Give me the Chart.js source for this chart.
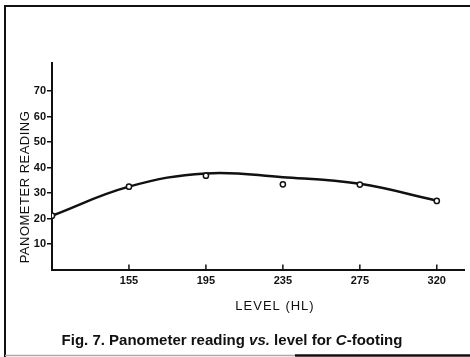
<!DOCTYPE html>
<html>
<head>
<meta charset="utf-8">
<script src="https://cdn.jsdelivr.net/npm/chart.js@4/dist/chart.umd.min.js"></script>
<style>
  html, body { margin: 0; padding: 0; background: #fff; }
  #chart { display: block; }
</style>
</head>
<body>
<canvas id="chart" width="470" height="357"></canvas>
<script>
// category labels along the level axis (first position is unlabeled)
const levelLabels = ['', '155', '195', '235', '275', '320'];
// measured panometer readings (open circles)
const readings = [21.1, 32.5, 36.8, 33.4, 33.3, 26.9];
// fitted curve
const curvePos = [0, 1, 2, 3, 4, 5];
const curveVals = [21.1, 32.5, 37.7, 36.2, 33.6, 27.0];
const yTickValues = [10, 20, 30, 40, 50, 60, 70];

const FONT = '"Liberation Sans", Arial, sans-serif';
const TICK_FONT = '"Liberation Sans Narrow", "Liberation Sans", Arial, sans-serif';

const figureText = {
  id: 'figureText',
  afterDraw(chart) {
    const { ctx, chartArea, scales } = chart;
    ctx.save();

    // outer frame
    ctx.strokeStyle = '#111';
    ctx.lineWidth = 2;
    ctx.beginPath();
    ctx.moveTo(5, 357);
    ctx.lineTo(5, 6);
    ctx.lineTo(470, 6);
    ctx.stroke();
    ctx.strokeStyle = '#aaa';
    ctx.lineWidth = 1.5;
    ctx.beginPath();
    ctx.moveTo(5, 355.5);
    ctx.lineTo(295, 355.5);
    ctx.stroke();
    ctx.strokeStyle = '#111';
    ctx.lineWidth = 2.5;
    ctx.beginPath();
    ctx.moveTo(295, 355.5);
    ctx.lineTo(470, 355.5);
    ctx.stroke();

    // x tick marks point up into the plot
    ctx.strokeStyle = '#111';
    ctx.lineWidth = 1.5;
    scales.x.ticks.forEach((t) => {
      const px = scales.x.getPixelForValue(t.value);
      ctx.beginPath();
      ctx.moveTo(px, chartArea.bottom);
      ctx.lineTo(px, chartArea.bottom - 5);
      ctx.stroke();
    });

    ctx.fillStyle = '#111';
    ctx.textAlign = 'center';
    ctx.textBaseline = 'middle';

    // axis titles
    ctx.font = `13px ${FONT}`;
    ctx.letterSpacing = '1px';
    ctx.fillText('LEVEL (HL)', 275, 306);

    ctx.save();
    ctx.translate(25, 187);
    ctx.rotate(-Math.PI / 2);
    ctx.letterSpacing = '0.5px';
    ctx.fillText('PANOMETER READING', 0, 0);
    ctx.restore();

    // caption with italic parts
    ctx.letterSpacing = '0px';
    const parts = [
      ['Fig. 7. Panometer reading ', false],
      ['vs.', true],
      [' level for ', false],
      ['C', true],
      ['-footing', false],
    ];
    const fontFor = (it) => `${it ? 'italic ' : ''}bold 15px ${FONT}`;
    let total = 0;
    parts.forEach(([s, it]) => { ctx.font = fontFor(it); total += ctx.measureText(s).width; });
    let x = 232 - total / 2;
    ctx.textAlign = 'left';
    parts.forEach(([s, it]) => {
      ctx.font = fontFor(it);
      ctx.fillText(s, x, 341);
      x += ctx.measureText(s).width;
    });

    ctx.restore();
  },
};

new Chart(document.getElementById('chart'), {
  type: 'scatter',
  data: {
    datasets: [
      {
        label: 'Fitted curve',
        data: curvePos.map((p, i) => ({ x: p, y: curveVals[i] })),
        showLine: true,
        borderColor: '#111',
        borderWidth: 2.5,
        pointRadius: 0,
        tension: 0.4,
        fill: false,
        order: 2,
      },
      {
        label: 'Panometer reading',
        data: readings.map((v, i) => ({ x: i, y: v })),
        showLine: false,
        pointRadius: 2.6,
        pointBorderWidth: 1.5,
        pointBorderColor: '#111',
        pointBackgroundColor: '#fff',
        order: 1,
      },
    ],
  },
  options: {
    responsive: false,
    animation: false,
    layout: { padding: { top: 63, right: 5, left: 0, bottom: 0 } },
    plugins: {
      legend: { display: false },
      tooltip: { enabled: false },
    },
    scales: {
      x: {
        type: 'linear',
        min: 0,
        max: 5.36,
        afterBuildTicks(scale) {
          scale.ticks = levelLabels.map((l, i) => ({ value: i })).filter((t) => t.value > 0);
        },
        afterFit(scale) { scale.height = 87.5; },
        grid: { display: false, drawTicks: false },
        border: { display: true, color: '#111', width: 2 },
        ticks: {
          padding: 5,
          color: '#111',
          font: { family: TICK_FONT, size: 11, weight: 'bold' },
          callback(value) { return levelLabels[value] ?? ''; },
          maxRotation: 0,
        },
      },
      y: {
        min: 0,
        max: 81,
        afterBuildTicks(scale) {
          scale.ticks = yTickValues.map((v) => ({ value: v }));
        },
        afterFit(scale) { scale.width = 52; },
        grid: { drawOnChartArea: false, drawTicks: true, tickLength: 5, color: '#111', lineWidth: 1.5 },
        border: { display: true, color: '#111', width: 2 },
        ticks: {
          padding: 1,
          color: '#111',
          font: { family: TICK_FONT, size: 11, weight: 'bold' },
        },
      },
    },
  },
  plugins: [figureText],
});
</script>
</body>
</html>
